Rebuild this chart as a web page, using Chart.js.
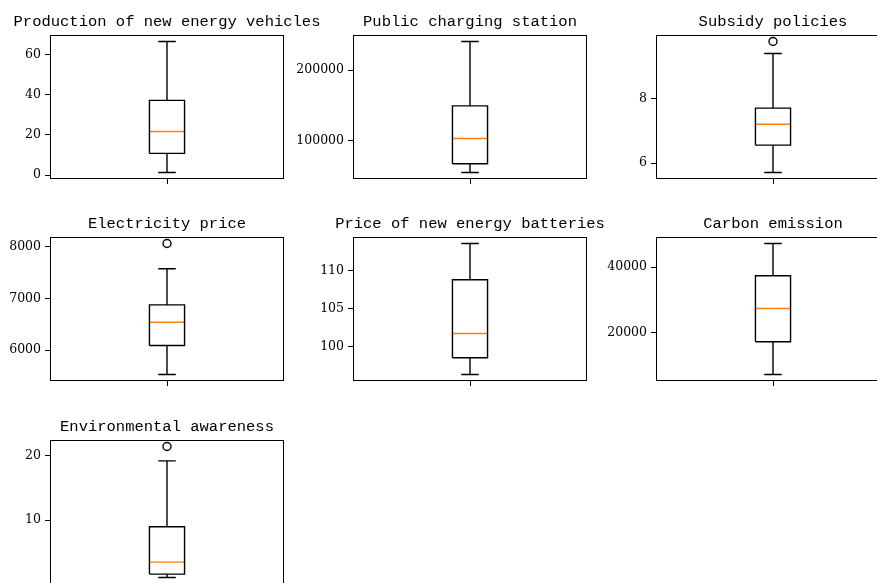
<!DOCTYPE html>
<html>
<head>
<meta charset="utf-8">
<script src="https://cdn.jsdelivr.net/npm/chart.js@4.4.1/dist/chart.umd.min.js"></script>
<style>
    html, body { margin: 0; padding: 0; background: #fff; overflow: hidden; width: 877px; height: 583px; }
    canvas { position: absolute; }
</style>
</head>
<body>
<script>
const titres = ["Production of new energy vehicles", "Public charging station", "Subsidy policies",
    "Electricity price", "Price of new energy batteries", "Carbon emission", "Environmental awareness"];
const basMoustache = [1.3, 55200, 5.71, 5529, 96.32, 7150, 1.08];
const quartile1 = [10.8, 67500, 6.555, 6089, 98.51, 17150, 1.6];
const medianes = [21.7, 103250, 7.2, 6537, 101.71, 27340, 3.47];
const quartile3 = [37.2, 149500, 7.7, 6873, 108.78, 37340, 8.97];
const hautMoustache = [66.5, 240600, 9.39, 7570, 113.55, 47220, 19.22];
const aberrants = [[], [], [9.76], [8058], [], [], [21.45]];
const graduationsY = [[0, 20, 40, 60], [100000, 200000], [6, 8], [6000, 7000, 8000],
    [100, 105, 110], [20000, 40000], [10, 20]];

// position des axes (comme la grille 3x3 de matplotlib)
const colonnes = [50, 353, 656];
const lignes = [35, 237, 440];
const largeurAxe = 234;
const hauteurAxe = 144;
const margeGauche = 70, margeHaut = 30, margeDroite = 70, margeBas = 20;

// cadre + titre centre au dessus de l'axe
const cadreTitre = {
    id: "cadreTitre",
    afterDraw(chart) {
        const ctx = chart.ctx;
        const a = chart.chartArea;
        ctx.save();
        ctx.strokeStyle = "#000";
        ctx.lineWidth = 1;
        ctx.strokeRect(a.left + 0.5, a.top + 0.5, a.right - a.left - 1, a.bottom - a.top - 1);
        ctx.fillStyle = "#000";
        ctx.font = "15.5px 'Liberation Mono', monospace";
        ctx.textAlign = "center";
        ctx.textBaseline = "alphabetic";
        ctx.fillText(chart.options.plugins.titreAxe.texte, (a.left + a.right) / 2, a.top - 9);
        ctx.restore();
    }
};

function creerGraphique(i) {
    const canvasGraph = document.createElement("canvas");
    const l = colonnes[i % 3], t = lignes[Math.floor(i / 3)];
    canvasGraph.width = margeGauche + largeurAxe + margeDroite;
    canvasGraph.height = margeHaut + hauteurAxe + margeBas;
    canvasGraph.style.left = (l - margeGauche) + "px";
    canvasGraph.style.top = (t - margeHaut) + "px";
    document.body.appendChild(canvasGraph);

    const demi = 0.075;
    const boite = [
        { x: 1 - demi, y: quartile1[i] }, { x: 1 + demi, y: quartile1[i] },
        { x: 1 + demi, y: quartile3[i] }, { x: 1 - demi, y: quartile3[i] },
        { x: 1 - demi, y: quartile1[i] }
    ];
    const moustaches = [
        { x: 1, y: quartile1[i] }, { x: 1, y: basMoustache[i] }, { x: 1, y: null },
        { x: 1 - demi / 2, y: basMoustache[i] }, { x: 1 + demi / 2, y: basMoustache[i] }, { x: 1, y: null },
        { x: 1, y: quartile3[i] }, { x: 1, y: hautMoustache[i] }, { x: 1, y: null },
        { x: 1 - demi / 2, y: hautMoustache[i] }, { x: 1 + demi / 2, y: hautMoustache[i] }
    ];
    const mediane = [{ x: 1 - demi, y: medianes[i] }, { x: 1 + demi, y: medianes[i] }];
    const points = aberrants[i].map((v) => ({ x: 1, y: v }));

    const valeurs = [basMoustache[i], hautMoustache[i]].concat(aberrants[i]);
    const vmin = Math.min(...valeurs), vmax = Math.max(...valeurs);
    const marge = (vmax - vmin) * 0.05;

    const ligne = { showLine: true, pointRadius: 0, borderColor: "#000", borderWidth: 1.4, fill: false, spanGaps: false };

    new Chart(canvasGraph, {
        type: "scatter",
        data: {
            datasets: [
                Object.assign({ data: boite }, ligne),
                Object.assign({ data: moustaches }, ligne),
                Object.assign({ data: mediane }, ligne, { borderColor: "#ff7f0e" }),
                {
                    data: points,
                    pointRadius: 4,
                    pointBorderWidth: 1.4,
                    pointBorderColor: "#000",
                    pointBackgroundColor: "rgba(0,0,0,0)"
                }
            ]
        },
        plugins: [cadreTitre],
        options: {
            responsive: false,
            animation: false,
            devicePixelRatio: 1,
            layout: { padding: { top: margeHaut, right: margeDroite, left: 0, bottom: 0 } },
            plugins: {
                legend: { display: false },
                tooltip: { enabled: false },
                titreAxe: { texte: titres[i] }
            },
            scales: {
                x: {
                    type: "linear",
                    min: 0.5,
                    max: 1.5,
                    afterBuildTicks: (s) => { s.ticks = [{ value: 1 }]; },
                    afterFit: (s) => { s.height = margeBas; },
                    ticks: { callback: () => "" },
                    border: { display: false },
                    grid: { drawOnChartArea: false, tickLength: 5, color: "#000", lineWidth: 1 }
                },
                y: {
                    min: vmin - marge,
                    max: vmax + marge,
                    afterBuildTicks: (s) => { s.ticks = graduationsY[i].map((v) => ({ value: v })); },
                    afterFit: (s) => { s.width = margeGauche; },
                    ticks: {
                        color: "#000",
                        padding: 4,
                        font: { family: "'DejaVu Serif', serif", size: 12.5 },
                        callback: (v) => String(v)
                    },
                    border: { display: false },
                    grid: { drawOnChartArea: false, tickLength: 5, color: "#000", lineWidth: 1 }
                }
            }
        }
    });
}

titres.forEach((titre, i) => creerGraphique(i));
</script>
</body>
</html>
